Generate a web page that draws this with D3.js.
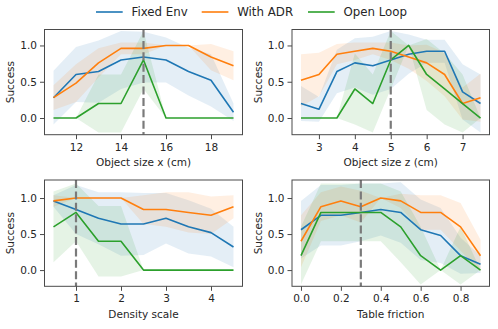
<!DOCTYPE html>
<html>
<head>
<meta charset="utf-8">
<script src="https://cdn.jsdelivr.net/npm/d3@7"></script>
<style>
  html, body { margin: 0; padding: 0; background: #fff; }
  svg { display: block; font-family: "DejaVu Sans", sans-serif; }
</style>
</head>
<body>
<svg id="chart" width="498" height="329"></svg>
<script>
// ---------------- data ----------------
const seriesNames = ["Fixed Env", "With ADR", "Open Loop"];
const seriesColors = ["#1f77b4", "#ff7f0e", "#2ca02c"];
const successTicks = [0, 0.5, 1.0];

// Object size x (cm)
const sizeX = [11, 12, 13, 14, 15, 16, 17, 18, 19];
const sizeXFixed = [0.28, 0.60, 0.64, 0.80, 0.84, 0.80, 0.64, 0.52, 0.08];
const sizeXFixedStd = [0.37, 0.38, 0.43, 0.40, 0.35, 0.31, 0.33, 0.36, 0.12];
const sizeXADR = [0.28, 0.48, 0.76, 0.96, 0.96, 1.00, 1.00, 0.84, 0.72];
const sizeXADRStd = [0.17, 0.26, 0.20, 0.08, 0.08, 0.00, 0.00, 0.18, 0.20];
const sizeXOpen = [0, 0, 0.2, 0.2, 0.8, 0, 0, 0, 0];
const sizeXOpenStd = [0, 0, 0.4, 0.4, 0.4, 0, 0, 0, 0];
const sizeXTicks = [12, 14, 16, 18];
const sizeXDefault = 15;

// Object size z (cm)
const sizeZ = [2.5, 3.0, 3.5, 4.0, 4.5, 5.0, 5.5, 6.0, 6.5, 7.0, 7.5];
const sizeZFixed = [0.20, 0.12, 0.64, 0.76, 0.72, 0.80, 0.88, 0.92, 0.92, 0.36, 0.20];
const sizeZFixedStd = [0.24, 0.17, 0.30, 0.34, 0.40, 0.40, 0.27, 0.16, 0.16, 0.38, 0.40];
const sizeZADR = [0.52, 0.60, 0.88, 0.92, 0.96, 0.92, 0.84, 0.76, 0.60, 0.20, 0.28];
const sizeZADRStd = [0.36, 0.30, 0.14, 0.12, 0.08, 0.12, 0.16, 0.25, 0.30, 0.22, 0.33];
const sizeZOpen = [0, 0, 0, 0.4, 0.2, 0.8, 1.0, 0.6, 0.4, 0.2, 0];
const sizeZOpenStd = [0, 0, 0, 0.49, 0.4, 0.4, 0, 0.49, 0.49, 0.4, 0];
const sizeZTicks = [3, 4, 5, 6, 7];
const sizeZDefault = 5;

// Density scale
const density = [0.5, 1.0, 1.5, 2.0, 2.5, 3.0, 3.5, 4.0, 4.5];
const densityFixed = [0.96, 0.84, 0.72, 0.64, 0.64, 0.72, 0.60, 0.52, 0.32];
const densityFixedStd = [0.08, 0.34, 0.36, 0.44, 0.43, 0.35, 0.37, 0.33, 0.28];
const densityADR = [0.96, 1.00, 1.00, 1.00, 0.84, 0.84, 0.80, 0.76, 0.88];
const densityADRStd = [0.08, 0, 0, 0, 0.20, 0.24, 0.28, 0.26, 0.16];
const densityOpen = [0.6, 0.8, 0.4, 0.4, 0, 0, 0, 0, 0];
const densityOpenStd = [0.49, 0.4, 0.49, 0.49, 0, 0, 0, 0, 0];
const densityTicks = [1, 2, 3, 4];
const densityDefault = 1;

// Table friction
const friction = [0.0, 0.1, 0.2, 0.3, 0.4, 0.5, 0.6, 0.7, 0.8, 0.9];
const frictionFixed = [0.56, 0.76, 0.76, 0.80, 0.84, 0.80, 0.56, 0.48, 0.20, 0.08];
const frictionFixedStd = [0.40, 0.42, 0.42, 0.40, 0.36, 0.42, 0.42, 0.38, 0.25, 0.12];
const frictionADR = [0.40, 0.88, 0.96, 0.88, 1.00, 0.96, 0.80, 0.80, 0.60, 0.20];
const frictionADRStd = [0.36, 0.20, 0.20, 0.22, 0, 0.10, 0.24, 0.24, 0.33, 0.22];
const frictionOpen = [0.2, 0.8, 0.8, 0.8, 0.8, 0.6, 0.2, 0, 0.2, 0];
const frictionOpenStd = [0.4, 0.4, 0.4, 0.4, 0.4, 0.49, 0.4, 0, 0.4, 0];
const frictionTicks = [0.0, 0.2, 0.4, 0.6, 0.8];
const frictionDefault = 0.3;

// ---------------- layout ----------------
const panels = [
  { x: sizeX, means: [sizeXFixed, sizeXADR, sizeXOpen], stds: [sizeXFixedStd, sizeXADRStd, sizeXOpenStd],
    ticks: sizeXTicks, fmt: d3.format("d"), vline: sizeXDefault, label: "Object size x (cm)",
    box: [44.5, 242.5, 29.5, 134.7], ydom: [-0.23, 1.22] },
  { x: sizeZ, means: [sizeZFixed, sizeZADR, sizeZOpen], stds: [sizeZFixedStd, sizeZADRStd, sizeZOpenStd],
    ticks: sizeZTicks, fmt: d3.format("d"), vline: sizeZDefault, label: "Object size z (cm)",
    box: [292, 489.5, 29.5, 134.7], ydom: [-0.23, 1.22] },
  { x: density, means: [densityFixed, densityADR, densityOpen], stds: [densityFixedStd, densityADRStd, densityOpenStd],
    ticks: densityTicks, fmt: d3.format("d"), vline: densityDefault, label: "Density scale",
    box: [44.5, 242.5, 180, 286.3], ydom: [-0.225, 1.25] },
  { x: friction, means: [frictionFixed, frictionADR, frictionOpen], stds: [frictionFixedStd, frictionADRStd, frictionOpenStd],
    ticks: frictionTicks, fmt: d3.format(".1f"), vline: frictionDefault, label: "Table friction",
    box: [292, 489.5, 180, 286.3], ydom: [-0.225, 1.25] }
];

const svg = d3.select("#chart");
const textColor = "#262626";
const spineColor = "#4a4a4a";

panels.forEach((p, pi) => {
  const [x0, x1, y0, y1] = p.box;
  const xmin = d3.min(p.x), xmax = d3.max(p.x);
  const pad = (xmax - xmin) * 0.05;
  const xs = d3.scaleLinear().domain([xmin - pad, xmax + pad]).range([x0, x1]);
  const ys = d3.scaleLinear().domain(p.ydom).range([y1, y0]);

  const g = svg.append("g");
  const clipId = "clip" + pi;
  g.append("clipPath").attr("id", clipId).append("rect")
    .attr("x", x0).attr("y", y0).attr("width", x1 - x0).attr("height", y1 - y0);

  const plot = g.append("g").attr("clip-path", `url(#${clipId})`);

  // bands
  p.means.forEach((m, si) => {
    const s = p.stds[si];
    const pts = p.x.map((xv, i) => ({ x: xv, lo: m[i] - s[i], hi: m[i] + s[i] }));
    const area = d3.area().x(d => xs(d.x)).y0(d => ys(d.lo)).y1(d => ys(d.hi));
    plot.append("path").attr("d", area(pts))
      .attr("fill", seriesColors[si]).attr("fill-opacity", 0.12).attr("stroke", "none");
  });
  // lines
  p.means.forEach((m, si) => {
    const pts = p.x.map((xv, i) => [xv, m[i]]);
    const line = d3.line().x(d => xs(d[0])).y(d => ys(d[1]));
    plot.append("path").attr("d", line(pts))
      .attr("fill", "none").attr("stroke", seriesColors[si])
      .attr("stroke-width", 1.6).attr("stroke-linejoin", "round");
  });
  // dashed reference line
  plot.append("line")
    .attr("x1", xs(p.vline)).attr("x2", xs(p.vline))
    .attr("y1", y0).attr("y2", y1)
    .attr("stroke", "#7a7a7a").attr("stroke-width", 2.2)
    .attr("stroke-dasharray", "8,3.4");

  // spines
  g.append("rect").attr("x", x0).attr("y", y0).attr("width", x1 - x0).attr("height", y1 - y0)
    .attr("fill", "none").attr("stroke", spineColor).attr("stroke-width", 1);

  // x axis
  const xAxis = d3.axisBottom(xs).tickValues(p.ticks).tickFormat(p.fmt).tickSize(4.5).tickPadding(4);
  const xg = g.append("g").attr("transform", `translate(0,${y1})`).call(xAxis);
  xg.select(".domain").remove();
  xg.selectAll(".tick line").attr("stroke", spineColor);
  xg.selectAll(".tick text").attr("fill", textColor)
    .attr("font-family", "DejaVu Sans").attr("font-size", 10.5);

  // y axis
  const yAxis = d3.axisLeft(ys).tickValues(successTicks).tickFormat(d3.format(".1f")).tickSize(4.5).tickPadding(3);
  const yg = g.append("g").attr("transform", `translate(${x0},0)`).call(yAxis);
  yg.select(".domain").remove();
  yg.selectAll(".tick line").attr("stroke", spineColor);
  yg.selectAll(".tick text").attr("fill", textColor)
    .attr("font-family", "DejaVu Sans").attr("font-size", 10.5);

  // labels
  g.append("text").attr("x", (x0 + x1) / 2).attr("y", y1 + 31.5)
    .attr("text-anchor", "middle").attr("fill", textColor)
    .attr("font-size", 10.5).text(p.label);
  g.append("text")
    .attr("transform", `translate(${x0 - 33.8},${(y0 + y1) / 2}) rotate(-90)`)
    .attr("text-anchor", "middle").attr("dy", "0.36em").attr("fill", textColor)
    .attr("font-size", 10.5).text("Success");
});

// legend
const legendPos = [96, 201.7, 308];
const leg = svg.append("g");
seriesNames.forEach((name, i) => {
  const lx = legendPos[i];
  leg.append("line").attr("x1", lx).attr("x2", lx + 26.7).attr("y1", 12).attr("y2", 12)
    .attr("stroke", seriesColors[i]).attr("stroke-width", 1.6);
  leg.append("text").attr("x", lx + 35.5).attr("y", 16.3)
    .attr("fill", textColor).attr("font-size", 11.8).text(name);
});
</script>
</body>
</html>
